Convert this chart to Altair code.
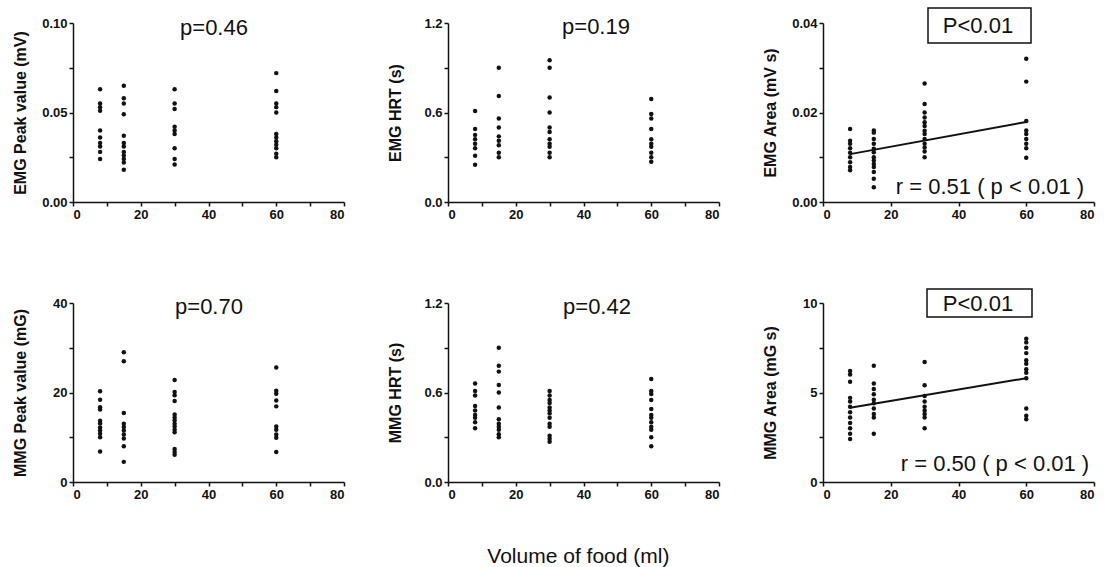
import altair as alt
import pandas as pd

# ---------------- data ----------------
VOLUMES = [8, 15, 30, 60]
X_TICKS = [0, 10, 20, 30, 40, 50, 60, 70, 80]

EMG_PEAK = [
    [0.063, 0.055, 0.053, 0.051, 0.040, 0.036, 0.033, 0.031, 0.028, 0.024],
    [0.065, 0.058, 0.055, 0.049, 0.037, 0.033, 0.031, 0.028, 0.026, 0.024, 0.022, 0.018],
    [0.063, 0.055, 0.052, 0.042, 0.040, 0.038, 0.030, 0.024, 0.021],
    [0.072, 0.062, 0.055, 0.053, 0.050, 0.038, 0.036, 0.034, 0.032, 0.030, 0.027, 0.025],
]
EMG_HRT = [
    [0.61, 0.49, 0.45, 0.42, 0.39, 0.36, 0.31, 0.25],
    [0.90, 0.71, 0.56, 0.50, 0.44, 0.41, 0.38, 0.33, 0.30],
    [0.95, 0.90, 0.70, 0.60, 0.50, 0.47, 0.42, 0.39, 0.37, 0.33, 0.30],
    [0.69, 0.59, 0.56, 0.49, 0.42, 0.39, 0.37, 0.33, 0.30, 0.27],
]
EMG_AREA = [
    [0.0163, 0.0137, 0.0130, 0.0120, 0.0110, 0.0100, 0.0089, 0.0078, 0.0071],
    [0.0160, 0.0155, 0.0141, 0.0130, 0.0119, 0.0111, 0.0100, 0.0093, 0.0085, 0.0078, 0.0067, 0.0052, 0.0033],
    [0.0265, 0.0219, 0.0200, 0.0189, 0.0178, 0.0170, 0.0159, 0.0152, 0.0141, 0.0130, 0.0122, 0.0113, 0.0100],
    [0.0320, 0.0269, 0.0181, 0.0160, 0.0152, 0.0141, 0.0130, 0.0120, 0.0099],
]
MMG_PEAK = [
    [20.3, 18.4, 16.7, 16.2, 13.7, 13.1, 12.2, 11.5, 10.8, 10.0, 6.8],
    [29.0, 27.0, 15.4, 13.0, 12.3, 11.5, 10.6, 9.7, 8.0, 4.5],
    [22.8, 20.1, 19.4, 18.1, 15.1, 14.4, 13.8, 13.0, 12.4, 11.7, 11.1, 7.4, 6.7, 6.1],
    [25.6, 20.4, 19.7, 18.2, 16.9, 12.4, 11.7, 10.6, 9.9, 6.7],
]
MMG_HRT = [
    [0.66, 0.61, 0.58, 0.51, 0.48, 0.45, 0.43, 0.40, 0.36],
    [0.90, 0.78, 0.74, 0.65, 0.60, 0.50, 0.42, 0.39, 0.37, 0.35, 0.32, 0.30],
    [0.61, 0.58, 0.55, 0.53, 0.50, 0.48, 0.46, 0.43, 0.39, 0.37, 0.31, 0.29, 0.27],
    [0.69, 0.61, 0.59, 0.55, 0.49, 0.45, 0.43, 0.40, 0.37, 0.35, 0.30, 0.24],
]
MMG_AREA = [
    [6.2, 6.0, 5.6, 4.7, 4.5, 4.2, 3.9, 3.6, 3.3, 3.0, 2.7, 2.4],
    [6.5, 5.5, 5.2, 4.9, 4.6, 4.4, 4.1, 3.8, 3.6, 2.7],
    [6.7, 5.4, 4.8, 4.5, 4.2, 4.0, 3.8, 3.6, 3.0],
    [8.0, 7.8, 7.5, 7.2, 6.8, 6.6, 6.3, 6.1, 5.8, 4.1, 3.7, 3.5],
]

FIT_X = [8, 60]
EMG_AREA_FIT = [0.0107, 0.0179]
MMG_AREA_FIT = [4.15, 5.80]

Y_TITLES = ["EMG Peak value (mV)", "EMG HRT (s)", "EMG Area (mV s)",
            "MMG Peak value (mG)", "MMG HRT (s)", "MMG Area (mG s)"]
Y_TICKS = [
    [0, 0.025, 0.05, 0.075, 0.1],
    [0, 0.3, 0.6, 0.9, 1.2],
    [0, 0.01, 0.02, 0.03, 0.04],
    [0, 10, 20, 30, 40],
    [0, 0.3, 0.6, 0.9, 1.2],
    [0, 2.5, 5, 7.5, 10],
]
Y_FORMATS = [".2f", ".1f", ".2f", "d", ".1f", "d"]
P_TEXTS = ["p=0.46", "p=0.19", "P<0.01", "p=0.70", "p=0.42", "P<0.01"]
R_TEXTS = [None, None, "r = 0.51 ( p < 0.01 )", None, None, "r = 0.50 ( p < 0.01 )"]
X_TITLE = "Volume of food (ml)"

# ---------------- layout ----------------
W, H = 271, 179
FONT = "Liberation Sans"
INK = "#111111"


def make_df(groups):
    rows = []
    for v, vals in zip(VOLUMES, groups):
        for val in vals:
            rows.append({"volume": v, "value": val})
    return pd.DataFrame(rows)


def panel(i, groups, fit=None, p_pos=(142, 4), box=None, r_pos=None):
    df = make_df(groups)
    ticks = Y_TICKS[i]
    x = alt.X(
        "volume:Q",
        scale=alt.Scale(domain=[0, 80], nice=False, zero=True),
        axis=alt.Axis(
            values=X_TICKS, format="d", title=None,
            labelExpr="datum.value % 20 == 0 ? datum.label : ''",
        ),
    )
    y = alt.Y(
        "value:Q",
        scale=alt.Scale(domain=[ticks[0], ticks[-1]], nice=False, zero=True),
        axis=alt.Axis(
            values=ticks, format=Y_FORMATS[i], title=Y_TITLES[i],
            labelExpr="round(datum.index * 4) % 2 == 0 ? datum.label : ''",
            titleX=-53, titleY=H / 2, titleAngle=-90, titleAlign="center",
            titleBaseline="middle",
        ),
    )
    layers = [
        alt.Chart(df).mark_circle(size=20, color=INK, opacity=1).encode(x=x, y=y)
    ]
    if fit is not None:
        fdf = pd.DataFrame({"volume": FIT_X, "value": fit})
        layers.append(
            alt.Chart(fdf).mark_line(color=INK, strokeWidth=2).encode(
                x="volume:Q", y="value:Q")
        )
    one = pd.DataFrame({"t": [P_TEXTS[i]]})
    if box is not None:
        layers.append(
            alt.Chart(one).mark_rect(fill="white", stroke=INK, strokeWidth=1.5).encode(
                x=alt.value(box[0]), x2=alt.value(box[1]),
                y=alt.value(box[2]), y2=alt.value(box[3]))
        )
    layers.append(
        alt.Chart(one).mark_text(font=FONT, fontSize=22, color=INK,
                                 align="center", baseline="middle").encode(
            x=alt.value(p_pos[0]), y=alt.value(p_pos[1]), text="t:N")
    )
    if R_TEXTS[i] is not None and r_pos is not None:
        rdf = pd.DataFrame({"t": [R_TEXTS[i]]})
        layers.append(
            alt.Chart(rdf).mark_text(font=FONT, fontSize=22, color=INK,
                                     align="center", baseline="middle").encode(
                x=alt.value(r_pos[0]), y=alt.value(r_pos[1]), text="t:N")
        )
    return alt.layer(*layers).properties(width=W, height=H)


p1 = panel(0, EMG_PEAK, p_pos=(141, 5))
p2 = panel(1, EMG_HRT, p_pos=(148, 4))
p3 = panel(2, EMG_AREA, fit=EMG_AREA_FIT, p_pos=(155, 3),
           box=(105, 208, -15, 20), r_pos=(167, 164))
p4 = panel(3, MMG_PEAK, p_pos=(136, 4))
p5 = panel(4, MMG_HRT, p_pos=(149, 4))
p6 = panel(5, MMG_AREA, fit=MMG_AREA_FIT, p_pos=(155, 1),
           box=(104, 209, -14, 14), r_pos=(172, 161))

chart = alt.concat(
    p1, p2, p3, p4, p5, p6, columns=3,
    spacing={"row": 101, "column": 104}, bounds="flush",
).properties(
    padding={"left": 11, "top": 7, "right": 5, "bottom": 5},
    background="white",
    title=alt.TitleParams(text=X_TITLE, orient="bottom", anchor="middle",
                          font=FONT, fontSize=21, fontWeight="normal",
                          color=INK, offset=45, dx=25),
).configure_view(stroke=None).configure_axis(
    grid=False,
    domainColor=INK, domainWidth=1.5,
    tickColor=INK, tickWidth=1.5, tickSize=4,
    labelFont=FONT, labelFontSize=13, labelFontWeight="bold", labelColor=INK,
    labelPadding=2,
    titleFont=FONT, titleFontSize=16, titleFontWeight="bold", titleColor=INK,
)

chart.save("out.html", embed_options={"renderer": "svg", "actions": False})
